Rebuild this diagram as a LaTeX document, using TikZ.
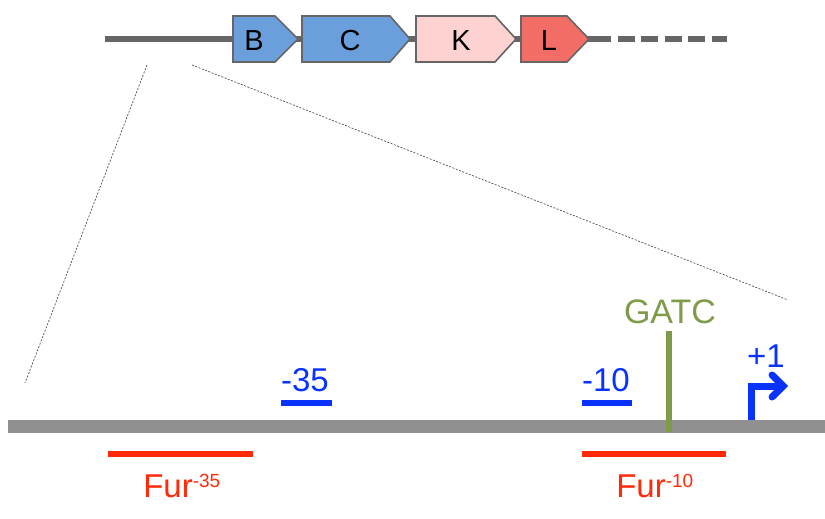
\documentclass[tikz,border=0pt]{standalone}
\usepackage{fontspec}
\setmainfont{Liberation Sans}
\usetikzlibrary{arrows.meta}
\definecolor{genegray}{HTML}{666666}
\definecolor{dnagray}{HTML}{909090}
\definecolor{geneblue}{HTML}{6A9FDC}
\definecolor{genepink}{HTML}{FFD2D2}
\definecolor{genered}{HTML}{F26D66}
\definecolor{gatcgreen}{HTML}{7F9A48}
\definecolor{promblue}{HTML}{0A32FF}
\definecolor{furred}{HTML}{FF2A0A}
\tikzset{
  gene/.style={draw=genegray, line width=1.6pt, line join=miter},
  genelabel/.style={font=\fontsize{29}{32}\selectfont, text=black, inner sep=0pt},
  bigtext/.style={font=\fontsize{33}{36}\selectfont, inner sep=0pt},
  zoomline/.style={draw=genegray!80!black, line width=0.7pt, dash pattern=on 2pt off 1.5pt},
  bar/.style={line width=6pt},
}
\begin{document}
\begin{tikzpicture}[x=1pt,y=-1pt]
\useasboundingbox (0,0) rectangle (825,519);
% top backbone
\draw[genegray, line width=5.5pt] (105,39) -- (594,39);
\draw[genegray, line width=5.5pt, dash pattern=on 17pt off 6.5pt] (594,39) -- (727,39);
% genes
\draw[gene, fill=geneblue] (233,16) -- (275,16) -- (298,39) -- (275,62) -- (233,62) -- cycle;
\draw[gene, fill=geneblue] (302,16) -- (390,16) -- (410,39) -- (390,62) -- (302,62) -- cycle;
\draw[gene, fill=genepink] (416,16) -- (495,16) -- (516,39) -- (495,62) -- (416,62) -- cycle;
\draw[gene, fill=genered] (521,16) -- (567,16) -- (589,39) -- (567,62) -- (521,62) -- cycle;
\node[genelabel] (gB) at (254,41) {B};
\node[genelabel] (gC) at (350,41) {C};
\node[genelabel] (gK) at (461,41) {K};
\node[genelabel] (gL) at (549,41) {L};
% zoom lines
\coordinate (z1a) at (147,65);
\coordinate (z1b) at (25,383);
\coordinate (z2a) at (192,65);
\coordinate (z2b) at (788,300);
\draw[zoomline] (z1a) -- (z1b);
\draw[zoomline] (z2a) -- (z2b);
% DNA
\draw[dnagray, line width=13pt] (8,426) -- (825,426);
% GATC
\coordinate (gatcTop) at (669,331);
\coordinate (gatcBot) at (669,432);
\draw[gatcgreen, line width=6.5pt] (gatcTop) -- (gatcBot);
\node[bigtext, text=gatcgreen, font=\fontsize{34}{36}\selectfont] (gatc) at (670,312) {GATC};
% -35 and -10
\coordinate (m35a) at (281,403); \coordinate (m35b) at (332,403);
\draw[promblue, bar] (m35a) -- (m35b);
\node[bigtext, text=promblue] (t35) at (305,380) {-35};
\coordinate (m10a) at (582,403); \coordinate (m10b) at (632,403);
\draw[promblue, bar] (m10a) -- (m10b);
\node[bigtext, text=promblue] (t10) at (606,380) {-10};
% +1
\coordinate (tssA) at (751,420);
\coordinate (tssB) at (751,386);
\coordinate (tssC) at (788,386);
\draw[promblue, line width=7pt, -{Straight Barb[length=11pt,width=22pt,line cap=round]}] (tssA) -- (tssB) -- (tssC);
\node[bigtext, text=promblue] (tplus) at (766,356) {+1};
% Fur boxes
\coordinate (f35a) at (108,454); \coordinate (f35b) at (253,454);
\draw[furred, bar] (f35a) -- (f35b);
\node[bigtext, text=furred, anchor=base] (tf35) at (182,497) {Fur\textsuperscript{\fontsize{19}{20}\selectfont -35}};
\coordinate (f10a) at (582,454); \coordinate (f10b) at (726,454);
\draw[furred, bar] (f10a) -- (f10b);
\node[bigtext, text=furred, anchor=base] (tf10) at (655,497) {Fur\textsuperscript{\fontsize{19}{20}\selectfont -10}};
\end{tikzpicture}
\end{document}
